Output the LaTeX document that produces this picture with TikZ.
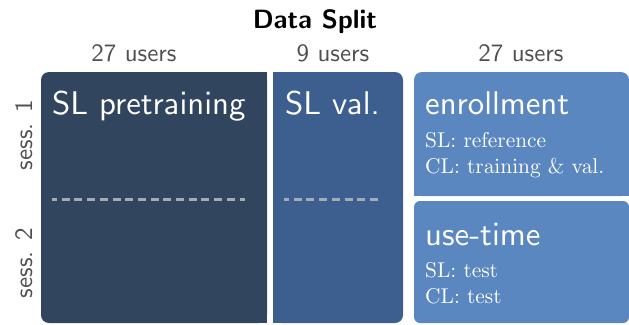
\documentclass[tikz,border=0pt]{standalone}
\definecolor{cdark}{HTML}{31455E}
\definecolor{cmid}{HTML}{3C5F8F}
\definecolor{clight}{HTML}{5A87C0}
\definecolor{cdash}{HTML}{A3ABB6}
\definecolor{cgray}{HTML}{505050}
\font\fttl=cmss10 at 32.8pt
\font\fhdr=cmss10 at 25pt
\font\fbold=cmssbx10 at 26.4pt
\font\fsub=cmr10 at 21.4pt
\tikzset{
  hdr/.style={font=\fhdr, text=cgray, inner sep=0pt, anchor=base},
  ttl/.style={font=\fttl, text=white, inner sep=0pt, anchor=base west},
  sub/.style={font=\fsub, text=white, inner sep=0pt, anchor=base west},
  sess/.style={font=\fhdr, text=cgray, inner sep=0pt, rotate=90, anchor=base},
  sep/.style={draw=cdash, line width=3pt, dash pattern=on 8pt off 4.7pt, dash phase=3pt}
}
\begin{document}
\begin{tikzpicture}[x=1pt,y=-1pt]
\useasboundingbox (0,0) rectangle (629,324);
% boxes
\fill[cdark, rounded corners=8pt] (41,72) rectangle (267,323);
\fill[cdark] (250,72) rectangle (267,323);
\fill[cmid, rounded corners=8pt] (273,72) rectangle (403,323);
\fill[cmid] (273,72) rectangle (290,323);
\fill[clight, rounded corners=8pt] (414,72) rectangle (629,196);
\fill[clight] (414,180) rectangle (629,196);
\fill[clight, rounded corners=6pt] (414,201) rectangle (629,323);
% dashed separators
\coordinate (d1a) at (52,199); \coordinate (d1b) at (245,199);
\coordinate (d2a) at (284,199); \coordinate (d2b) at (381,199);
\draw[sep] (d1a) -- (d1b);
\draw[sep] (d2a) -- (d2b);
% title and headers
\node[font=\fbold, inner sep=0pt, anchor=base] (title) at (315,28) {Data Split};
\node[hdr] (u1) at (134,61) {27 users};
\node[hdr] (u2) at (333,61) {9 users};
\node[hdr] (u3) at (521,61) {27 users};
% session labels
\node[sess] (s1) at (32,135) {sess. 1};
\node[sess] (s2) at (32,263) {sess. 2};
% box texts
\node[ttl] (t1) at (52,114) {SL pretraining};
\node[ttl] (t2) at (285,114) {SL val.};
\node[ttl] (t3) at (425,114) {enrollment};
\node[sub] (e1) at (425,147) {SL: reference};
\node[sub] (e2) at (425,173) {CL: training \& val.};
\node[ttl] (t4) at (425,245) {use-time};
\node[sub] (f1) at (425,277) {SL: test};
\node[sub] (f2) at (425,303) {CL: test};
\end{tikzpicture}
\end{document}
